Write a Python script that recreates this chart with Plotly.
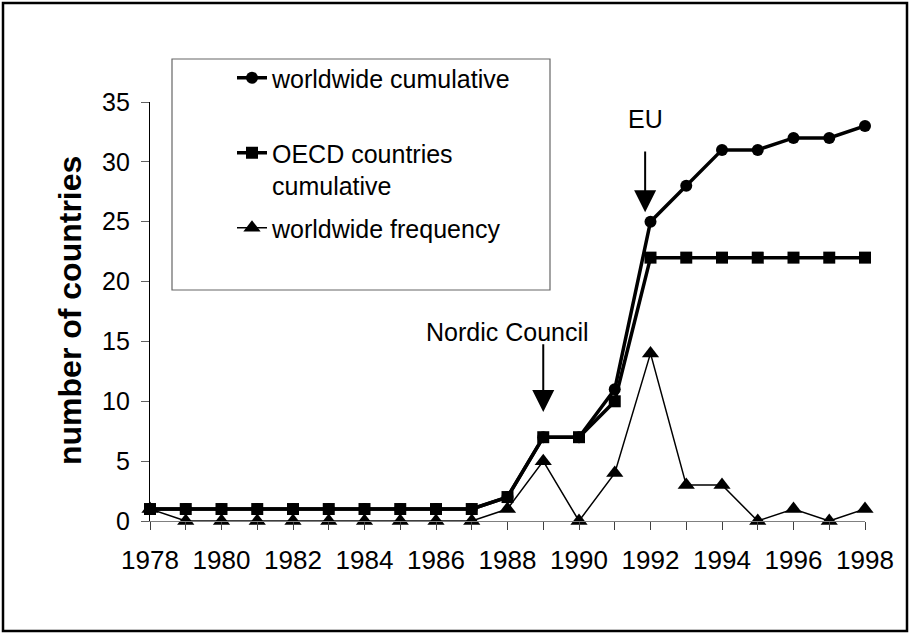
import plotly.graph_objects as go

years = list(range(1978, 1999))
worldwide_cumulative = [1, 1, 1, 1, 1, 1, 1, 1, 1, 1, 2, 7, 7, 11, 25, 28, 31, 31, 32, 32, 33]
oecd_cumulative = [1, 1, 1, 1, 1, 1, 1, 1, 1, 1, 2, 7, 7, 10, 22, 22, 22, 22, 22, 22, 22]
worldwide_frequency = [1, 0, 0, 0, 0, 0, 0, 0, 0, 0, 1, 5, 0, 4, 14, 3, 3, 0, 1, 0, 1]
series_names = ["worldwide cumulative<br> ", "OECD countries<br>cumulative", "worldwide frequency"]
x_tick_labels = [str(y) for y in range(1978, 1999, 2)]
y_ticks = [0, 5, 10, 15, 20, 25, 30, 35]

FONT = "Liberation Sans, Arial, sans-serif"

fig = go.Figure()
fig.add_trace(go.Scatter(
    x=years, y=worldwide_frequency, name=series_names[2], mode="lines+markers",
    line=dict(color="black", width=1.5),
    marker=dict(symbol="triangle-up", size=15, color="black"),
    cliponaxis=False, legendgroup="c", legendrank=3))
fig.add_trace(go.Scatter(
    x=years, y=worldwide_cumulative, name=series_names[0], mode="lines+markers",
    line=dict(color="black", width=3.5),
    marker=dict(symbol="circle", size=12, color="black"),
    cliponaxis=False, legendgroup="a", legendrank=1))
fig.add_trace(go.Scatter(
    x=years, y=oecd_cumulative, name=series_names[1], mode="lines+markers",
    line=dict(color="black", width=3.5),
    marker=dict(symbol="square", size=12, color="black"),
    cliponaxis=False, legendgroup="b", legendrank=2))

# plot area in px: x 150..865, y 102..521
def px_x(p):
    return (p - 150) / 715.0

def px_y(p):
    return (521 - p) / 419.0

shapes = [
    # outer border
    dict(type="rect", xref="paper", yref="paper",
         x0=px_x(3), x1=px_x(907), y0=px_y(631), y1=px_y(3),
         line=dict(color="black", width=2.5)),
    # legend box
    dict(type="rect", xref="paper", yref="paper",
         x0=px_x(172), x1=px_x(550), y0=px_y(290), y1=px_y(59),
         line=dict(color="#666666", width=1.2), fillcolor="rgba(0,0,0,0)"),
]

annotations = [
    dict(x=1988, y=15.8, xref="x", yref="y", text="Nordic Council", showarrow=False,
         font=dict(family=FONT, size=25, color="black")),
    dict(x=1989, y=9.1, xref="x", yref="y", ax=1989, ay=14.9, axref="x", ayref="y",
         text="", showarrow=True, arrowhead=2, arrowsize=2.2, arrowwidth=2, arrowcolor="black",
         standoff=0),
    dict(x=1991.85, y=33.6, xref="x", yref="y", text="EU", showarrow=False,
         font=dict(family=FONT, size=25, color="black")),
    dict(x=1991.85, y=25.8, xref="x", yref="y", ax=1991.85, ay=31.0, axref="x", ayref="y",
         text="", showarrow=True, arrowhead=2, arrowsize=2.2, arrowwidth=2, arrowcolor="black",
         standoff=0),
    dict(x=px_x(70), y=px_y(311), xref="paper", yref="paper", text="<b>number of countries</b>",
         showarrow=False, textangle=-90, xanchor="center", yanchor="middle",
         font=dict(family=FONT, size=32, color="black")),
]

fig.update_layout(
    width=910, height=634,
    margin=dict(l=150, r=45, t=102, b=113),
    paper_bgcolor="white", plot_bgcolor="white",
    font=dict(family=FONT, size=25, color="black"),
    showlegend=True,
    legend=dict(x=px_x(232), y=px_y(55), xanchor="left", yanchor="top",
                bgcolor="rgba(0,0,0,0)", borderwidth=0,
                font=dict(family=FONT, size=25, color="black"),
                tracegroupgap=7, valign="top", itemwidth=30),
    shapes=shapes,
    annotations=annotations,
    xaxis=dict(range=[1978, 1998], tickmode="array",
               tickvals=list(range(1978, 1999, 2)), ticktext=x_tick_labels,
               ticks="outside", ticklen=8, tickwidth=1, tickcolor="#404040",
               minor=dict(dtick=1, tick0=1978, ticks="outside", ticklen=8, tickwidth=1,
                          tickcolor="#404040", showgrid=False),
               showline=True, linecolor="#808080", linewidth=1.2,
               showgrid=False, zeroline=False,
               tickfont=dict(family=FONT, size=26, color="black"),
               ticklabelstandoff=8),
    yaxis=dict(range=[0, 35], tickvals=y_ticks,
               ticks="outside", ticklen=8, tickwidth=1, tickcolor="#606060",
               showline=True, linecolor="black", linewidth=1.2,
               showgrid=False, zeroline=False,
               tickfont=dict(family=FONT, size=25, color="black"),
               ticklabelstandoff=6),
)

fig.write_html("out.html", post_script="document.body.style.margin='0';",
               config={"displayModeBar": False})
